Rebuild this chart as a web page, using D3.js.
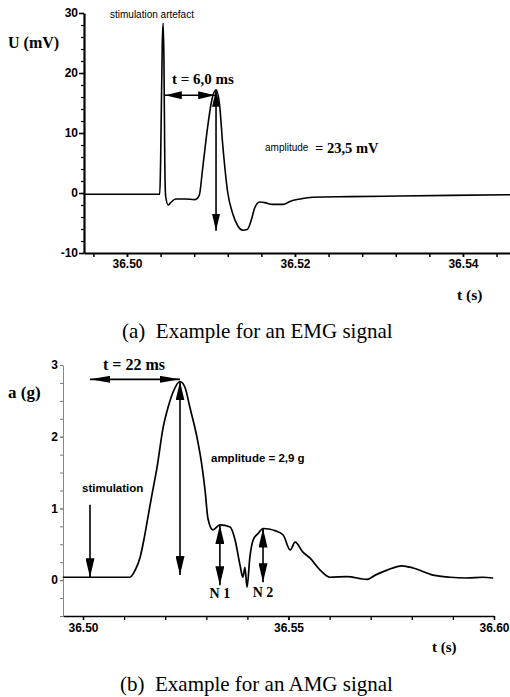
<!DOCTYPE html>
<html><head><meta charset="utf-8">
<script src="https://cdn.jsdelivr.net/npm/d3@7"></script>
<style>
body{margin:0;background:#fff}
svg{display:block}
.sans{font-family:"Liberation Sans",Arial,sans-serif}
.serif{font-family:"Liberation Serif","Times New Roman",serif}
</style></head><body>
<svg id="c" width="510" height="697"></svg>
<script>
// ---- EMG (a) ----
const emgTime=[36.4949,36.5039,36.5040,36.5042,36.5043,36.5044,36.5045,36.5046,36.5049,36.5052,
36.5058,36.5069,36.5081,36.5086,36.5090,36.5096,36.5101,36.5106,36.5110,36.5114,
36.5120,36.5126,36.5132,36.5138,36.5143,36.5148,36.5152,36.5158,36.5164,36.5173,
36.5186,36.5194,36.5206,36.5221,36.5265,36.5325,36.5385,36.5456];
const emgU=[-0.2,-0.2,5,25,28.3,22,5,-0.5,-2.0,-1.6,
-1.0,-1.0,-1.1,-0.4,4,11,15.5,17.2,15,8,
0,-3.5,-5.5,-6.2,-6.1,-4.5,-2.5,-1.5,-1.6,-1.9,
-1.9,-1.4,-1.0,-0.7,-0.6,-0.5,-0.4,-0.3];
const emgXMajor=[36.50,36.52,36.54];
const emgXMinor=[36.496,36.500,36.504,36.508,36.512,36.516,36.520,36.524,36.528,36.532,36.536,36.540,36.544];
const emgYMajor=[-10,0,10,20,30];
const emgYMinor=[-10,-8,-6,-4,-2,0,2,4,6,8,10,12,14,16,18,20,22,24,26,28,30];

// ---- AMG (b) ----
const amgTime=[36.4951,36.5114,36.5127,36.5139,36.5148,36.5158,36.5168,36.5180,36.5195,36.5207,
36.5219,36.5236,36.5248,36.5260,36.5277,36.5290,36.5297,36.5304,36.5316,36.5333,
36.5358,36.5370,36.5382,36.5389,36.5394,36.5399,36.5406,36.5414,36.5426,36.5438,
36.5455,36.5467,36.5487,36.5504,36.5516,36.5535,36.5552,36.5577,36.5601,36.5642,
36.5691,36.5711,36.5740,36.5776,36.5803,36.5852,36.5893,36.5934,36.5973,36.5998];
const amgA=[0.04,0.04,0.14,0.32,0.56,0.88,1.2,1.57,2.13,2.41,
2.62,2.77,2.69,2.41,2.0,1.57,1.25,0.86,0.7,0.77,
0.74,0.56,0.21,0.04,0.18,-0.1,0.32,0.56,0.65,0.72,
0.71,0.69,0.63,0.42,0.53,0.39,0.31,0.14,0.04,0.05,
0.01,0.07,0.14,0.2,0.17,0.07,0.04,0.03,0.04,0.03];
const amgXTicks=[36.50,36.51,36.52,36.53,36.54,36.55,36.56,36.57,36.58,36.59,36.60];
const amgXLabels=[36.50,36.55,36.60];
const amgYMajor=[0,1,2,3];
const amgYMinor=[-0.5,-0.25,0,0.25,0.5,0.75,1,1.25,1.5,1.75,2,2.25,2.5,2.75,3];

const svg=d3.select("#c");
const defs=svg.append("defs");
function marker(id,len,wid){
  defs.append("marker").attr("id",id).attr("markerUnits","userSpaceOnUse")
    .attr("markerWidth",len).attr("markerHeight",wid).attr("refX",len).attr("refY",wid/2)
    .attr("orient","auto-start-reverse")
    .append("path").attr("d",`M0,0L${len},${wid/2}L0,${wid}Z`).attr("fill","#000");
}
marker("ah",17,8);
marker("ah2",19,9);
marker("ahh",20,7);

function arrow(g,x1,y1,x2,y2,both,m){
  const l=g.append("line").attr("x1",x1).attr("y1",y1).attr("x2",x2).attr("y2",y2)
    .attr("stroke","#000").attr("stroke-width",1.6).attr("marker-end",`url(#${m})`);
  if(both) l.attr("marker-start",`url(#${m})`);
}
function styleTicks(g){
  g.selectAll(".tick text").style("font-family",'"Liberation Sans",Arial,sans-serif')
   .style("font-weight","bold").style("font-size","12px").style("fill","#000");
}
const plain=d=>String(d);

// ===== Chart (a) =====
const xa=d3.scaleLinear().domain([36.49488,36.5456]).range([84,510]);
const ya=d3.scaleLinear().domain([-10,30]).range([253,13]);
const ga=svg.append("g");
ga.append("g").attr("transform","translate(0,253)")
  .call(d3.axisBottom(xa).tickValues(emgXMinor).tickSize(4).tickFormat("").tickSizeOuter(0))
  .call(g=>g.select(".domain").remove()).selectAll("line").attr("stroke-width",1.5);
ga.append("g").attr("transform","translate(0,253)")
  .call(d3.axisBottom(xa).tickValues(emgXMajor).tickSize(4).tickPadding(2).tickFormat(d3.format(".2f")).tickSizeOuter(0))
  .call(g=>{g.select(".domain").attr("stroke-width",2.2);g.selectAll("line").attr("stroke-width",1.5);styleTicks(g);});
ga.append("g").attr("transform","translate(84,0)")
  .call(d3.axisLeft(ya).tickValues(emgYMinor).tickSize(3).tickFormat("").tickSizeOuter(0))
  .call(g=>g.select(".domain").remove()).selectAll("line").attr("stroke-width",1.2);
ga.append("g").attr("transform","translate(84,0)")
  .call(d3.axisLeft(ya).tickValues(emgYMajor).tickSize(5).tickPadding(1).tickFormat(plain).tickSizeOuter(0))
  .call(g=>{g.select(".domain").attr("stroke-width",2.2);g.selectAll("line").attr("stroke-width",1.5);styleTicks(g);});

const lineA=d3.line().x((d,i)=>xa(emgTime[i])).y(d=>ya(d)).curve(d3.curveMonotoneX);
ga.append("path").datum(emgU).attr("d",lineA).attr("fill","none").attr("stroke","#000").attr("stroke-width",1.6);

arrow(ga,xa(36.5045),ya(16.3),xa(36.5105),ya(16.3),true,"ah");
arrow(ga,xa(36.5106),ya(17.2),xa(36.5106),ya(-6.3),true,"ah");

ga.append("text").attr("class","sans").attr("x",110).attr("y",18).attr("font-size",10).text("stimulation artefact");
ga.append("text").attr("class","serif").attr("x",8).attr("y",48).attr("font-size",16).attr("font-weight","bold").text("U (mV)");
ga.append("text").attr("class","serif").attr("x",172).attr("y",84).attr("font-size",15).attr("font-weight","bold").text("t = 6,0 ms");
ga.append("text").attr("class","sans").attr("x",265).attr("y",151).attr("font-size",10).text("amplitude");
ga.append("text").attr("class","serif").attr("x",315).attr("y",153).attr("font-size",14.5).attr("font-weight","bold").text("= 23,5 mV");
ga.append("text").attr("class","serif").attr("x",457).attr("y",300).attr("font-size",15.5).attr("font-weight","bold").text("t (s)");
ga.append("text").attr("class","serif").attr("x",122).attr("y",338).attr("font-size",21).text("(a)\u2002Example for an EMG signal");

// ===== Chart (b) =====
const xb=d3.scaleLinear().domain([36.49513,36.60]).range([63,494]);
const yb=d3.scaleLinear().domain([-0.5,3]).range([616,365]);
const gb=svg.append("g");
gb.append("g").attr("transform","translate(0,616)")
  .call(d3.axisBottom(xb).tickValues(amgXTicks).tickSize(4).tickFormat("").tickSizeOuter(0))
  .call(g=>g.select(".domain").remove()).selectAll("line").attr("stroke-width",1.3);
gb.append("g").attr("transform","translate(0,616)")
  .call(d3.axisBottom(xb).tickValues(amgXLabels).tickSize(4).tickPadding(3).tickFormat(d3.format(".2f")).tickSizeOuter(0))
  .call(g=>{g.select(".domain").attr("stroke-width",1.6);g.selectAll("line").attr("stroke-width",1.3);styleTicks(g);});
gb.append("g").attr("transform","translate(63,0)")
  .call(d3.axisLeft(yb).tickValues(amgYMinor).tickSize(3).tickFormat("").tickSizeOuter(0))
  .call(g=>g.select(".domain").remove()).selectAll("line").attr("stroke","#777");
gb.append("g").attr("transform","translate(63,0)")
  .call(d3.axisLeft(yb).tickValues(amgYMajor).tickSize(3).tickPadding(2).tickFormat(plain).tickSizeOuter(0))
  .call(g=>{g.select(".domain").attr("stroke","#888");g.selectAll("line").attr("stroke","#777");styleTicks(g);});

const lineB=d3.line().x((d,i)=>xb(amgTime[i])).y(d=>yb(d)).curve(d3.curveMonotoneX);
gb.append("path").datum(amgA).attr("d",lineB).attr("fill","none").attr("stroke","#000").attr("stroke-width",1.7);

arrow(gb,xb(36.5017),yb(2.8),xb(36.5236),yb(2.8),true,"ahh");
arrow(gb,xb(36.5236),yb(2.77),xb(36.5236),yb(0.07),true,"ah2");
arrow(gb,xb(36.5017),yb(1.05),xb(36.5017),yb(0.04),false,"ah2");
arrow(gb,xb(36.5333),yb(0.77),xb(36.5333),yb(-0.07),true,"ah2");
arrow(gb,xb(36.5438),yb(0.72),xb(36.5438),yb(-0.03),true,"ah2");

gb.append("text").attr("class","serif").attr("x",103).attr("y",370).attr("font-size",16).attr("font-weight","bold").text("t = 22 ms");
gb.append("text").attr("class","serif").attr("x",8).attr("y",398).attr("font-size",17).attr("font-weight","bold").text("a (g)");
gb.append("text").attr("class","sans").attr("x",211).attr("y",462).attr("font-size",11.5).attr("font-weight","bold").text("amplitude = 2,9 g");
gb.append("text").attr("class","sans").attr("x",82).attr("y",492).attr("font-size",11.5).attr("font-weight","bold").text("stimulation");
gb.append("text").attr("class","serif").attr("x",xb(36.5333)).attr("y",598).attr("text-anchor","middle").attr("font-size",14).attr("font-weight","bold").text("N 1");
gb.append("text").attr("class","serif").attr("x",xb(36.5438)).attr("y",597).attr("text-anchor","middle").attr("font-size",14).attr("font-weight","bold").text("N 2");
gb.append("text").attr("class","serif").attr("x",432).attr("y",652).attr("font-size",15).attr("font-weight","bold").text("t (s)");
gb.append("text").attr("class","serif").attr("x",120).attr("y",691).attr("font-size",21).text("(b)\u2002Example for an AMG signal");
</script>
</body></html>
